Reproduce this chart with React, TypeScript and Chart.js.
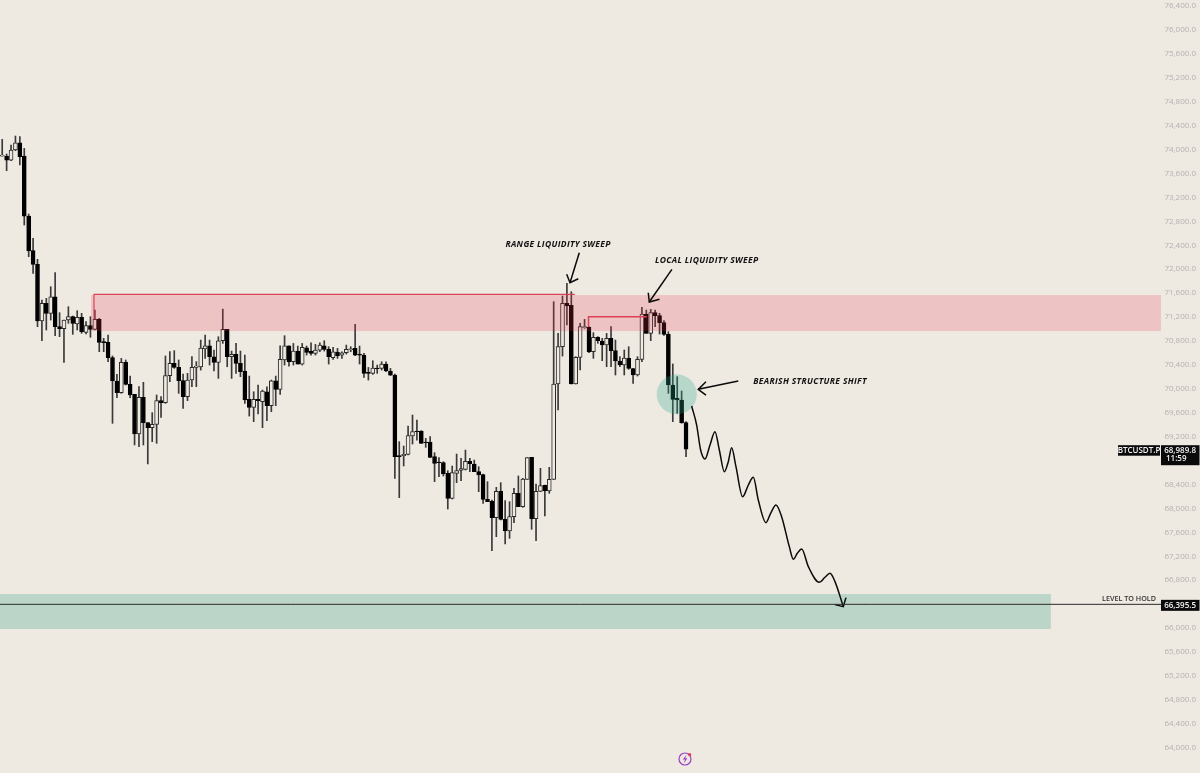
import React, { useEffect, useRef } from "react";
import { Chart, registerables } from "chart.js";

Chart.register(...registerables);

const opens = [73892,73892,73825,73993,74115,73892,72889,72310,72081,71134,71429,71262,71540,71039,71005,71150,71206,71084,71195,70944,71056,70994,71162,70788,70777,70521,70131,69935,70443,70075,69908,69244,69857,69434,69350,69406,69802,69768,70220,70426,70359,70136,69869,70147,70359,70364,70665,70720,70536,70442,70804,70993,70536,70575,70425,70297,69823,69689,69823,69784,69951,69717,70135,69990,70481,70720,70453,70631,70414,70687,70631,70592,70648,70720,70659,70520,70614,70564,70603,70653,70676,70581,70564,70274,70258,70347,70341,70414,70297,70230,68882,68882,68904,69210,69294,69294,69110,69110,68865,68776,68765,68586,68168,68586,68636,68653,68787,68742,68614,68564,68151,68124,67845,68285,67817,67622,67862,68252,68029,68486,68854,67828,68285,68386,68291,68486,70080,70704,71429,71396,70080,70526,71022,71028,70621,70860,70799,70732,70844,70638,70465,70398,70509,70337,70231,70493,71251,70927,71273,71223,71106,70911,70064,69841,69813,69434];
const highs = [74171,73926,74076,74227,74216,74020,72923,72516,72165,71485,71513,71708,71942,71273,71150,71373,71217,71306,71262,71123,71206,71318,71178,70844,70900,70549,70242,70509,70482,70214,69908,70036,70108,69434,69601,69897,69869,70549,70621,70638,70482,70248,70259,70537,70454,70815,70899,70815,70648,70871,71333,70993,70631,70759,70631,70564,70213,69951,70063,69979,70035,70146,70213,70720,70888,70720,70759,70715,70759,70715,70770,70743,70770,70804,70704,70692,70676,70620,70731,70704,71077,70715,70592,70358,70470,70397,70453,70453,70341,70247,69116,69043,69378,69561,69478,69300,69171,69199,68932,68848,68781,68631,68709,68909,68837,68976,68837,68809,68698,68575,68447,68140,68352,68430,68129,68112,68335,68542,68503,68848,68854,68408,68670,68391,68687,71457,70927,71552,71763,71624,70537,71095,71161,71039,70939,70872,70844,70927,71039,70816,70537,70649,70704,70342,70537,71362,71317,71329,71317,71262,71139,70955,70415,70203,69963,69450];
const lows = [73892,73647,73814,73982,73742,72739,72209,71931,71039,70805,70983,71150,70888,70872,70443,71095,70911,70983,70927,70916,70861,70983,70621,70621,70454,69423,69852,69924,70064,69852,69061,69033,69061,68743,69116,69088,69523,69757,70119,70342,69924,69674,69802,70036,70036,70313,70509,70397,70297,70174,70759,70369,70174,70258,70202,69756,69544,69450,69578,69349,69466,69617,69717,69907,70397,70380,70397,70414,70397,70564,70564,70564,70620,70631,70414,70492,70509,70509,70581,70620,70553,70414,70191,70146,70241,70258,70313,70286,70219,68503,68179,68709,68893,69077,69143,69088,69021,68848,68447,68530,68542,67990,68157,68430,68464,68642,68614,68614,68280,68085,68112,67293,67527,67806,67405,67499,67761,68029,68018,68486,67650,67460,68280,67873,68252,68486,69646,70548,71067,70080,70080,70314,71011,70604,70509,70760,70470,70370,70370,70231,70370,70231,70325,70091,70214,70454,70927,70805,71039,70916,70894,69924,69450,69590,69423,68865];
const closes = [73909,73825,73993,74115,73881,72889,72304,72081,71134,71429,71262,71540,71039,71005,71150,71206,71095,71195,70955,71056,70994,71162,70777,70771,70521,70131,69935,70443,70075,69897,69244,69857,69434,69350,69406,69802,69768,70220,70426,70359,70136,69869,70147,70359,70381,70681,70720,70536,70442,70804,70993,70536,70575,70425,70286,69812,69689,69823,69801,69962,69717,70135,69990,70492,70720,70453,70631,70414,70692,70609,70592,70648,70731,70659,70536,70620,70553,70603,70659,70670,70564,70564,70258,70258,70347,70336,70414,70297,70230,68865,68865,68904,69216,69283,69283,69088,69099,68854,68753,68765,68575,68168,68597,68631,68664,68787,68748,68614,68558,68151,68112,67845,68285,67817,67622,67862,68252,68029,68491,68848,67828,68285,68380,68296,68486,70080,70704,71429,71384,70080,70526,71039,71039,70615,70860,70805,70732,70844,70638,70465,70398,70515,70342,70231,70493,71251,70927,71273,71223,71106,70911,70064,69824,69813,69434,68990];

const priceTicks = [76400,76000,75600,75200,74800,74400,74000,73600,73200,72800,72400,72000,71600,71200,70800,70400,70000,69600,69200,68800,68400,68000,67600,67200,66800,66400,66000,65600,65200,64800,64400,64000];

const squiggleX = [156.27,157.41,158.31,159.3,160.43,161.56,162.55,163.68,164.58,165.34,166.32,167.83,169.12,170.25,171.38,173.12,174.18,175.39,176.67,178.41,179.32,180.22,181.21,182.72,185.21,186.49,187.63,188.76,190.65];
const squiggleY = [69712,69394,68976,68826,69060,69283,68976,68614,68781,69015,68698,68196,68391,68520,68141,67762,67918,68057,67862,67360,67149,67249,67321,67026,66764,66848,66914,66775,66357];

const squiggleHead = [[188.76,66391],[190.65,66357],[191.25,66508]];
const rangeArrow = [[130.8,72275],[128.7,71773]];
const rangeHead = [[127.95,71914],[128.7,71773],[130.58,71840]];
const localArrow = [[151.8,71998],[146.67,71451]];
const localHead = [[146.44,71606],[146.67,71451],[148.99,71496]];
const bearArrow = [[166.84,70130],[157.77,69991]];
const bearHead = [[159.52,70118],[157.77,69991],[159.52,69896]];

const rangeTop = [[20.8,71161],[20.8,71578],[129.8,71578]];
const localTop = [[132.9,71038],[132.9,71205],[146.1,71205]];
const levelPrice = 66395.5;
const levelLine = [[-0.5,levelPrice],[262.65,levelPrice]];

const redZone = { from: 20.13, to: 262.65, top: 71568, bottom: 70966 };
const greenZone = { from: -0.5, to: 237.7, top: 66568, bottom: 65983 };
const shiftCircle = { x: 152.9, y: 69907 };

const noteTexts = ["RANGE LIQUIDITY SWEEP", "LOCAL LIQUIDITY SWEEP", "BEARISH STRUCTURE SHIFT"];
const noteX = [126, 159.7, 183.1];
const noteY = [72420, 72136, 70113];

const symbolLabel = "BTCUSDT.P";
const lastPrice = 68989.8;
const countdownLabel = "11:59";
const levelLabel = "LEVEL TO HOLD";

const BG = "#EEE9E1";
const INK = "#0b0b0b";
const fmt = (v: number) => v.toLocaleString("en-US", { minimumFractionDigits: 1, maximumFractionDigits: 1 });
const toPts = (a: number[][]) => a.map(([x, y]) => ({ x, y }));

const overlay = {
  id: "overlay",
  afterDatasetDraw(chart: any, args: any) {
    if (args.index !== 1) return;
    const { ctx, scales } = chart;
    const X = scales.x, Y = scales.y;
    ctx.save();
    ctx.fillStyle = "rgba(235,50,75,0.2)";
    ctx.fillRect(X.getPixelForValue(redZone.from), Y.getPixelForValue(redZone.top), X.getPixelForValue(redZone.to) - X.getPixelForValue(redZone.from), Y.getPixelForValue(redZone.bottom) - Y.getPixelForValue(redZone.top));
    ctx.fillStyle = "rgba(38,155,130,0.25)";
    ctx.fillRect(X.getPixelForValue(greenZone.from), Y.getPixelForValue(greenZone.top), X.getPixelForValue(greenZone.to) - X.getPixelForValue(greenZone.from), Y.getPixelForValue(greenZone.bottom) - Y.getPixelForValue(greenZone.top));
    ctx.fillStyle = "rgba(38,165,140,0.27)";
    ctx.beginPath();
    ctx.arc(X.getPixelForValue(shiftCircle.x), Y.getPixelForValue(shiftCircle.y), 20, 0, Math.PI * 2);
    ctx.fill();
    ctx.restore();
  },
  afterDraw(chart: any) {
    const { ctx, scales } = chart;
    const X = scales.x, Y = scales.y;
    ctx.save();
    // handwritten notes
    ctx.fillStyle = "#111";
    ctx.textAlign = "center";
    ctx.textBaseline = "middle";
    ctx.font = "italic 700 8.5px 'Open Sans'";
    (ctx as any).letterSpacing = "0.35px";
    noteTexts.forEach((t, i) => ctx.fillText(t, X.getPixelForValue(noteX[i]), Y.getPixelForValue(noteY[i])));
    (ctx as any).letterSpacing = "0px";

    // level label
    ctx.fillStyle = "#333";
    ctx.textAlign = "right";
    ctx.font = "600 7.2px 'Open Sans'";
    ctx.fillText(levelLabel, 1156, Y.getPixelForValue(levelPrice) - 5.5);

    // price boxes
    const yLast = Y.getPixelForValue(lastPrice);
    ctx.fillStyle = "#0a0a0a";
    ctx.fillRect(1118, yLast - 4, 42, 10.5);
    ctx.fillRect(1161, yLast - 4, 38.5, 20);
    const yLvl = Y.getPixelForValue(levelPrice);
    ctx.fillRect(1161, yLvl - 4.5, 38.5, 11);
    ctx.fillStyle = "#F2F2F2";
    ctx.font = "600 8px 'Open Sans'";
    ctx.textAlign = "center";
    ctx.fillText(symbolLabel, 1139, yLast + 1.2);
    ctx.textAlign = "right";
    ctx.fillText(fmt(lastPrice), 1196, yLast + 1.2);
    ctx.fillText(fmt(levelPrice), 1196, yLvl + 1);
    ctx.textAlign = "left";
    ctx.fillText(countdownLabel, 1166, yLast + 10);

    // small badge at the bottom
    ctx.strokeStyle = "#9A3FC4";
    ctx.lineWidth = 1.2;
    ctx.beginPath();
    ctx.arc(685, 759, 6, 0, Math.PI * 2);
    ctx.stroke();
    ctx.fillStyle = "#9A3FC4";
    ctx.beginPath();
    ctx.moveTo(686.5, 754.8);
    ctx.lineTo(682.8, 759.6);
    ctx.lineTo(685, 759.6);
    ctx.lineTo(683.8, 763.2);
    ctx.lineTo(687.4, 758.2);
    ctx.lineTo(685.2, 758.2);
    ctx.closePath();
    ctx.fill();
    ctx.fillStyle = "#E23B5A";
    ctx.beginPath();
    ctx.arc(689.6, 754.6, 1.6, 0, Math.PI * 2);
    ctx.fill();
    ctx.restore();
  },
};

export default function App() {
  const ref = useRef<HTMLCanvasElement>(null);
  useEffect(() => {
    document.body.style.margin = "0";
    document.body.style.background = BG;
    const idx = opens.map((_, i) => i);
    const up = idx.map((i) => closes[i] >= opens[i]);
    const inkLine = (data: number[][], color = INK, width = 1.5, smooth = false) => ({
      type: "line" as const,
      data: toPts(data),
      borderColor: color,
      borderWidth: width,
      pointRadius: 0,
      cubicInterpolationMode: smooth ? "monotone" : "default",
      tension: 0,
      fill: false,
      order: 1,
    });
    const chart = new Chart(ref.current!, {
      type: "bar",
      data: {
        datasets: [
          {
            type: "bar",
            data: idx.map((i) => ({ x: i, y: [lows[i], highs[i]] })),
            backgroundColor: "#3a3a3a",
            barThickness: 1,
            borderWidth: 0,
            order: 3,
          },
          {
            type: "bar",
            data: idx.map((i) => ({ x: i, y: [opens[i], closes[i]] })),
            backgroundColor: up.map((u) => (u ? BG : "#000000")),
            borderColor: up.map((u) => (u ? "#2a2a2a" : "#000000")),
            borderWidth: 1,
            borderSkipped: false,
            barThickness: 4,
            order: 2,
          },
          inkLine(levelLine, "#2b2b2b", 1),
          inkLine(rangeTop, "#DC4257", 1.2),
          inkLine(localTop, "#DC4257", 1.5),
          inkLine(squiggleX.map((x, i) => [x, squiggleY[i]]), INK, 1.5, true),
          inkLine(squiggleHead),
          inkLine(rangeArrow),
          inkLine(rangeHead),
          inkLine(localArrow),
          inkLine(localHead),
          inkLine(bearArrow),
          inkLine(bearHead),
        ] as any,
      },
      options: {
        animation: false,
        responsive: false,
        maintainAspectRatio: false,
        layout: { padding: 0, autoPadding: false },
        datasets: { bar: { grouped: false } },
        plugins: { legend: { display: false }, tooltip: { enabled: false } },
        scales: {
          x: { type: "linear", min: -0.5, max: 271.5, offset: false, display: false, grid: { display: false } },
          y: {
            type: "linear",
            position: "right",
            min: 63575,
            max: 76502,
            grid: { display: false, drawTicks: false },
            border: { display: false },
            afterBuildTicks: (s: any) => { s.ticks = priceTicks.map((value) => ({ value })); },
            afterFit: (s: any) => {
              s.paddingTop = 0;
              s.paddingBottom = 0;
              s.paddingLeft = 0;
              s.paddingRight = 0;
              s.width = 0;
            },
            ticks: {
              mirror: true,
              padding: -4,
              autoSkip: false,
              color: "#B4B1B2",
              font: { family: "'Open Sans'", size: 8 },
              callback: (v: any) => fmt(Number(v)),
            },
          },
        },
      } as any,
      plugins: [overlay],
    });
    return () => chart.destroy();
  }, []);
  return (
    <div style={{ position: "absolute", left: 0, top: 0, width: 1200, height: 773, background: BG, overflow: "hidden" }}>
      <canvas ref={ref} width={1200} height={773} style={{ display: "block", width: 1200, height: 773 }} />
    </div>
  );
}
